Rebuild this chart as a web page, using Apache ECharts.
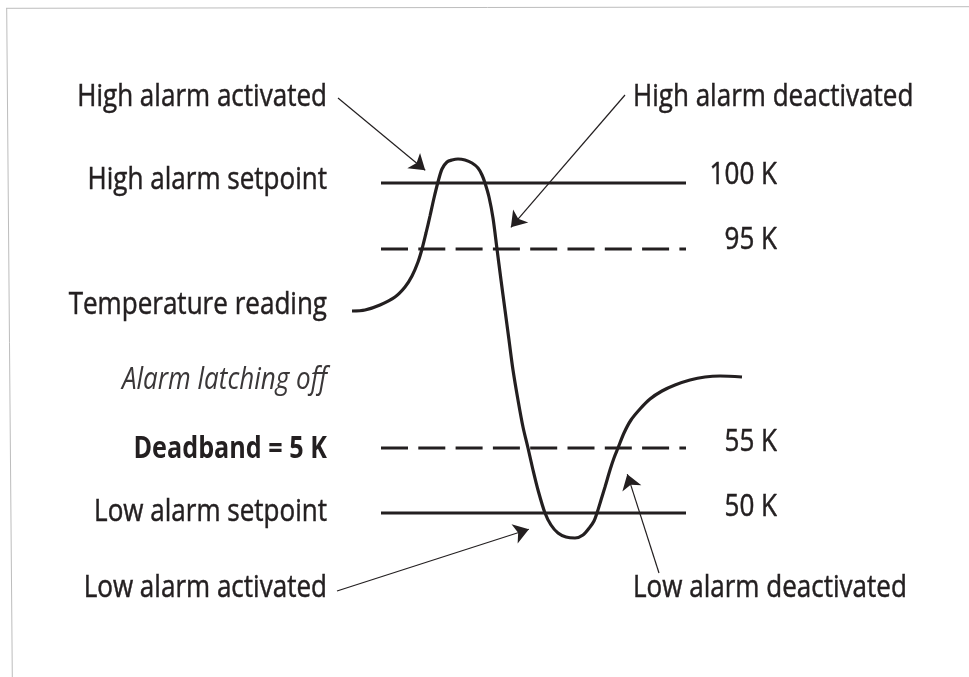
<!DOCTYPE html>
<html>
<head>
<meta charset="utf-8">
<script src="https://cdn.jsdelivr.net/npm/echarts@6/dist/echarts.min.js"></script>
<style>
html,body{margin:0;padding:0;background:#fff;}
#c{width:969px;height:677px;}
</style>
</head>
<body>
<div id="c"></div>
<script>
// Diagram coordinates: time (x) and diagram level (y, downward)
const readingTime  = [352, 365, 380, 395, 405, 412, 418, 422, 426, 430, 434, 438, 442, 447, 452, 458, 465, 472, 478, 482, 485, 489, 493, 497, 501, 505, 509, 513, 518, 523, 528, 533, 538, 545, 551, 558, 566, 575, 583, 590, 594, 597, 601, 605, 610, 614, 618, 624, 631, 640, 650, 662, 675, 690, 705, 720, 742];
const readingLevel = [311, 310, 305, 297, 287, 276, 262, 249, 233, 216, 198, 182, 169, 162, 160, 159, 160, 163, 168, 175, 183, 197, 218, 249, 280, 310, 340, 370, 400, 427, 448, 470, 490, 513, 525, 533, 537, 538, 535, 527, 521, 513, 500, 487, 470, 458, 448, 433, 420, 409, 399, 391, 385, 380, 377, 376, 377];

// threshold lines
const thresholdNames  = ['100 K', '95 K', '55 K', '50 K'];
const thresholdLevel  = [183, 249, 448, 513];
const thresholdDashed = [false, true, true, false];
const thresholdStart  = 381;
const thresholdEnd    = 686;

// left-side captions
const leftLabels = ['High alarm activated', 'High alarm setpoint', 'Temperature reading', 'Alarm latching off', 'Deadband = 5 K', 'Low alarm setpoint', 'Low alarm activated'];
const leftLabelLevel = [97, 180, 305, 380, 449, 512, 588];
// right-side captions
const rightLabels = ['High alarm deactivated', 'Low alarm deactivated'];
const rightLabelLevel = [97, 588];
const valueLabelLevel = [175, 240, 442, 507];

// annotation arrows (from caption to curve)
const arrowFrom = [[338, 98], [625, 95], [337, 591], [659, 573]];
const arrowTo   = [[431, 175], [506, 233], [536, 527], [625, 467]];

const INK = '#231f20';
const FONT = '"Open Sans", "Noto Sans", sans-serif';
const FS = 31;
const SQUEEZE = 0.84;
const ARROW = 15;

const chart = echarts.init(document.getElementById('c'), null, {renderer: 'canvas'});

const curve = readingTime.map((t, i) => [t, readingLevel[i]]);

const thresholdSeries = thresholdLevel.map((lv, i) => ({
  type: 'line',
  data: [[thresholdStart, lv], [thresholdEnd, lv]],
  symbol: 'none',
  silent: true,
  lineStyle: {color: INK, width: 3, type: thresholdDashed[i] ? [27, 10.3] : 'solid', cap: 'butt'},
  z: 2
}));

// shorten arrows so the arrowhead tip lands on the target
const arrowData = arrowFrom.map((f, i) => {
  const t = arrowTo[i];
  const dx = t[0] - f[0], dy = t[1] - f[1];
  const len = Math.sqrt(dx * dx + dy * dy);
  const k = (len - ARROW / 2) / len;
  return {coords: [f, [f[0] + dx * k, f[1] + dy * k]]};
});

function textSeries(names, anchorX, levels, align, styles) {
  return {
    type: 'custom',
    silent: true,
    data: names.map((n, i) => [anchorX, levels[i]]),
    renderItem: (params, api) => {
      const p = api.coord([api.value(0), api.value(1)]);
      const s = (styles && styles[params.dataIndex]) || {};
      return {
        type: 'text',
        x: p[0], y: p[1],
        scaleX: SQUEEZE,
        style: {
          text: names[params.dataIndex],
          x: 0, y: 0,
          align: align,
          verticalAlign: 'middle',
          fill: s.color || INK,
          stroke: s.color || INK,
          lineWidth: s.stroke != null ? s.stroke : 0.5,
          fontSize: s.fontSize || FS,
          fontFamily: FONT,
          fontStyle: s.fontStyle || 'normal',
          fontWeight: s.fontWeight || 'normal'
        }
      };
    },
    z: 5
  };
}

const leftStyles = leftLabels.map((n, i) => {
  if (i === 3) return {fontStyle: 'italic', color: '#3a3738', fontSize: 31, stroke: 0};
  if (i === 4) return {fontWeight: 'bold', fontSize: 30, stroke: 0};
  return null;
});

chart.setOption({
  backgroundColor: '#fff',
  animation: false,
  grid: {left: 0, right: 0, top: 0, bottom: 0},
  xAxis: {type: 'value', min: 0, max: 969, show: false},
  yAxis: {type: 'value', min: 0, max: 677, inverse: true, show: false},
  series: [
    {
      type: 'line',
      data: curve,
      smooth: 0.3,
      symbol: 'none',
      silent: true,
      lineStyle: {color: INK, width: 3.2},
      z: 3
    },
    ...thresholdSeries,
    {
      type: 'lines',
      coordinateSystem: 'cartesian2d',
      data: arrowData,
      symbol: ['none', 'arrow'],
      symbolSize: ARROW,
      silent: true,
      lineStyle: {color: INK, width: 1.2, opacity: 1},
      z: 4
    },
    textSeries(leftLabels, 327, leftLabelLevel, 'right', leftStyles),
    textSeries(rightLabels, 633, rightLabelLevel, 'left'),
    textSeries(thresholdNames, 777, valueLabelLevel, 'right')
  ],
  graphic: [
    {type: 'line', shape: {x1: 6, y1: 8.3, x2: 969, y2: 6.7}, style: {stroke: '#bdbdbd', lineWidth: 1}, silent: true},
    {type: 'line', shape: {x1: 6.7, y1: 8.3, x2: 12.3, y2: 677}, style: {stroke: '#bdbdbd', lineWidth: 1}, silent: true}
  ]
});
</script>
</body>
</html>
